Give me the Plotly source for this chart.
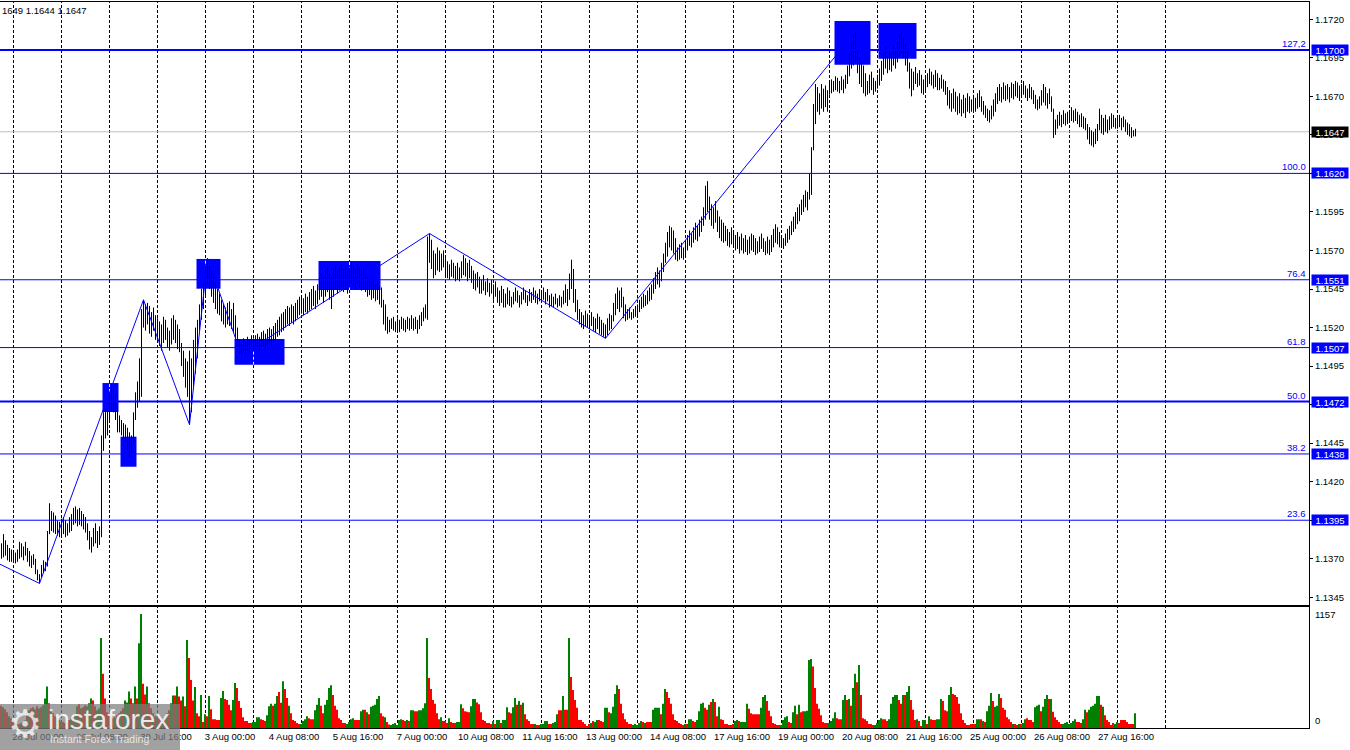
import plotly.graph_objects as go

# ---------------- DATA ----------------
days = ["27 Jul", "28 Jul", "29 Jul", "30 Jul", "31 Jul", "3 Aug", "4 Aug", "5 Aug", "6 Aug", "7 Aug",
        "10 Aug", "11 Aug", "12 Aug", "13 Aug", "14 Aug", "17 Aug", "18 Aug", "19 Aug", "20 Aug", "21 Aug",
        "24 Aug", "25 Aug", "26 Aug", "27 Aug", "28 Aug", "31 Aug"]
first_hour = 17          # first H1 bar: 27 Jul 17:00
price_base = 1.1300      # bar values below are pips above this base

high_pips = [
    [84, 80, 86, 82, 79, 77, 76],
    [75, 74, 76, 81, 80, 78, 81, 77, 75, 72, 73, 70, 63, 60, 66, 69, 68, 88, 106, 101, 100, 98, 95, 94],
    [96, 97, 95, 93, 97, 99, 103, 104, 102, 103, 101, 99, 97, 93, 88, 84, 90, 93, 88, 91, 150, 165, 167, 166],
    [178, 183, 180, 176, 168, 163, 160, 158, 157, 155, 152, 150, 165, 178, 185, 200, 232, 238, 235, 236, 234, 230, 233, 228],
    [226, 224, 222, 227, 225, 220, 218, 226, 228, 225, 222, 219, 210, 205, 200, 198, 205, 200, 212, 220, 225, 235, 245, 249],
    [260, 265, 262, 258, 255, 250, 245, 242, 238, 235, 233, 236, 237, 232, 236, 228, 220, 212, 210, 213, 211, 214, 212, 215],
    [213, 215, 216, 214, 217, 218, 216, 219, 220, 219, 221, 223, 225, 227, 229, 230, 232, 234, 233, 235, 234, 236, 238, 240],
    [241, 239, 242, 240, 243, 245, 247, 244, 248, 252, 255, 253, 257, 259, 256, 253, 258, 260, 257, 259, 261, 258, 260, 257],
    [259, 262, 260, 258, 261, 259, 257, 258, 255, 253, 252, 250, 251, 248, 250, 247, 246, 238, 235, 227, 225, 226, 227, 224],
    [226, 225, 227, 226, 225, 227, 226, 228, 226, 227, 225, 228, 230, 233, 235, 279, 281, 277, 270, 268, 272, 270, 268, 270],
    [265, 263, 261, 264, 262, 260, 262, 259, 263, 267, 265, 262, 264, 260, 257, 255, 256, 253, 251, 254, 250, 252, 249, 251],
    [248, 250, 246, 244, 247, 245, 242, 246, 244, 240, 243, 246, 244, 241, 243, 246, 244, 241, 245, 243, 246, 244, 242, 245],
    [244, 246, 243, 245, 241, 242, 240, 242, 239, 241, 240, 244, 248, 245, 255, 264, 258, 245, 238, 232, 230, 228, 231, 229],
    [228, 230, 227, 226, 229, 227, 225, 223, 222, 226, 229, 228, 236, 242, 246, 244, 246, 240, 235, 232, 233, 230, 232, 234],
    [235, 238, 240, 242, 241, 244, 246, 248, 252, 256, 259, 257, 262, 268, 275, 282, 286, 285, 283, 278, 272, 274, 275, 272],
    [276, 280, 283, 281, 285, 288, 286, 290, 292, 298, 312, 315, 305, 300, 298, 302, 296, 292, 290, 288, 286, 284, 282, 285],
    [283, 280, 282, 279, 281, 278, 280, 277, 279, 281, 280, 278, 276, 279, 281, 278, 276, 279, 277, 280, 284, 287, 285, 282],
    [280, 278, 281, 284, 286, 289, 292, 295, 298, 300, 303, 306, 309, 308, 320, 337, 365, 378, 376, 372, 378, 375, 377, 374],
    [379, 381, 380, 383, 382, 380, 383, 381, 384, 390, 398, 405, 410, 412, 400, 395, 392, 390, 385, 380, 384, 386, 382, 380],
    [384, 388, 393, 398, 402, 396, 400, 398, 403, 401, 406, 410, 412, 408, 404, 399, 392, 388, 386, 389, 385, 387, 384, 381],
    [382, 385, 388, 386, 384, 387, 385, 382, 384, 381, 380, 376, 374, 372, 375, 373, 370, 372, 368, 371, 369, 372, 370, 368],
    [371, 369, 372, 374, 370, 367, 364, 362, 361, 364, 368, 372, 376, 378, 376, 379, 377, 378, 376, 379, 378, 380, 379, 377],
    [378, 380, 377, 375, 378, 376, 374, 371, 368, 370, 374, 378, 376, 372, 375, 370, 362, 355, 358, 360, 358, 361, 359, 360],
    [361, 363, 361, 362, 360, 358, 359, 357, 356, 352, 350, 348, 347, 349, 352, 362, 358, 356, 358, 355, 357, 359, 358, 356],
    [357, 358, 356, 357, 355, 353, 352, 350, 348, 349],
]
low_pips = [
    [72, 70, 71, 72, 69, 68, 68],
    [68, 67, 68, 70, 71, 69, 72, 68, 65, 64, 66, 60, 56, 54, 58, 61, 62, 65, 86, 88, 87, 86, 85, 84],
    [85, 86, 84, 85, 87, 88, 92, 93, 91, 92, 91, 89, 87, 82, 76, 74, 78, 80, 77, 79, 84, 140, 148, 150],
    [160, 166, 165, 160, 152, 152, 150, 148, 146, 140, 136, 138, 145, 160, 168, 172, 175, 220, 218, 222, 216, 214, 218, 212],
    [210, 208, 205, 210, 212, 207, 205, 209, 212, 210, 206, 204, 195, 188, 181, 175, 157, 165, 180, 190, 200, 218, 225, 232],
    [240, 248, 245, 240, 236, 232, 229, 228, 224, 222, 220, 222, 221, 219, 217, 212, 207, 203, 202, 204, 203, 205, 204, 206],
    [205, 206, 207, 205, 207, 208, 206, 209, 210, 208, 210, 212, 214, 215, 217, 218, 220, 222, 221, 223, 222, 224, 226, 228],
    [229, 228, 230, 229, 231, 232, 234, 232, 235, 238, 240, 236, 240, 243, 238, 232, 240, 245, 242, 244, 246, 243, 245, 242],
    [246, 248, 247, 245, 248, 246, 244, 245, 243, 240, 241, 238, 239, 237, 238, 235, 233, 222, 218, 216, 217, 219, 218, 217],
    [218, 217, 219, 218, 217, 219, 218, 219, 218, 219, 216, 219, 221, 224, 226, 225, 262, 258, 252, 254, 257, 256, 257, 259],
    [254, 252, 251, 253, 252, 250, 251, 250, 252, 254, 253, 250, 252, 249, 245, 244, 246, 242, 242, 244, 241, 243, 240, 242],
    [238, 240, 236, 234, 236, 233, 233, 235, 234, 233, 235, 237, 236, 233, 235, 238, 236, 234, 237, 236, 238, 236, 235, 237],
    [236, 238, 235, 237, 233, 234, 233, 235, 233, 234, 233, 235, 236, 234, 238, 245, 236, 230, 225, 222, 220, 219, 221, 220],
    [219, 221, 218, 217, 219, 216, 215, 214, 213, 215, 218, 219, 224, 228, 232, 230, 233, 226, 224, 225, 226, 225, 226, 227],
    [228, 230, 232, 233, 234, 235, 237, 238, 242, 245, 248, 246, 250, 256, 262, 266, 272, 270, 268, 264, 263, 264, 265, 264],
    [266, 270, 273, 272, 275, 277, 276, 279, 282, 286, 290, 295, 290, 286, 284, 288, 282, 278, 276, 275, 276, 273, 272, 274],
    [272, 270, 271, 268, 270, 268, 269, 267, 268, 270, 269, 267, 268, 269, 271, 269, 267, 268, 267, 269, 272, 275, 274, 272],
    [272, 271, 273, 275, 277, 280, 282, 284, 287, 289, 293, 295, 298, 296, 303, 306, 335, 352, 360, 358, 362, 360, 363, 360],
    [371, 372, 373, 374, 373, 372, 374, 372, 375, 378, 383, 388, 390, 392, 385, 378, 376, 372, 370, 371, 372, 374, 371, 373],
    [375, 377, 380, 384, 388, 385, 387, 386, 390, 388, 392, 396, 398, 395, 390, 386, 375, 370, 374, 378, 376, 377, 372, 371],
    [374, 376, 378, 377, 375, 376, 374, 374, 375, 373, 371, 364, 362, 360, 362, 360, 358, 359, 357, 359, 356, 360, 359, 360],
    [361, 360, 362, 363, 360, 358, 356, 354, 353, 355, 357, 360, 365, 367, 366, 368, 367, 368, 366, 369, 368, 370, 369, 367],
    [370, 371, 369, 367, 369, 368, 365, 362, 361, 362, 364, 366, 364, 362, 365, 360, 343, 345, 349, 351, 350, 352, 351, 352],
    [353, 354, 353, 354, 352, 350, 350, 349, 348, 342, 339, 338, 337, 339, 341, 348, 346, 345, 347, 346, 348, 349, 350, 349],
    [349, 350, 348, 350, 347, 345, 344, 343, 344, 344],
]
volume = [
    [235, 225, 210, 190, 160, 120, 100],
    [60, 50, 40, 40, 50, 60, 80, 130, 180, 200, 210, 190, 220, 200, 210, 230, 300, 420, 250, 190, 150, 120, 100, 80],
    [70, 60, 50, 60, 80, 90, 110, 130, 220, 240, 200, 210, 230, 220, 250, 300, 280, 220, 180, 200, 913, 551, 300, 160],
    [150, 120, 100, 110, 130, 150, 170, 200, 280, 260, 370, 300, 250, 420, 300, 860, 1157, 450, 340, 420, 250, 200, 150, 120],
    [120, 100, 80, 90, 110, 150, 180, 250, 330, 330, 420, 320, 280, 320, 220, 893, 711, 487, 280, 416, 150, 120, 335, 60],
    [140, 120, 325, 190, 90, 90, 80, 80, 305, 375, 295, 285, 235, 180, 285, 457, 406, 274, 203, 110, 70, 70, 50, 50],
    [60, 60, 110, 110, 90, 80, 70, 130, 220, 245, 225, 245, 325, 365, 255, 475, 395, 305, 225, 150, 80, 70, 50, 40],
    [40, 70, 90, 120, 100, 90, 90, 180, 235, 305, 225, 150, 235, 285, 405, 435, 335, 225, 185, 100, 80, 50, 50, 40],
    [60, 90, 100, 80, 80, 80, 170, 185, 185, 160, 140, 215, 225, 235, 295, 325, 150, 120, 110, 60, 35, 30, 40, 50],
    [30, 80, 90, 80, 70, 80, 70, 180, 180, 170, 170, 180, 180, 200, 250, 913, 507, 395, 285, 245, 150, 90, 110, 70],
    [70, 50, 100, 60, 50, 50, 60, 60, 240, 200, 170, 165, 160, 220, 295, 295, 260, 240, 160, 80, 70, 50, 50, 40],
    [70, 40, 80, 80, 50, 80, 80, 210, 160, 150, 210, 305, 235, 275, 235, 255, 140, 90, 70, 40, 40, 40, 30, 30],
    [40, 40, 70, 70, 40, 40, 50, 60, 140, 180, 180, 325, 185, 185, 913, 518, 385, 285, 205, 80, 80, 60, 40, 20],
    [40, 50, 70, 60, 80, 80, 70, 60, 205, 205, 160, 150, 215, 345, 435, 395, 245, 150, 90, 60, 40, 40, 30, 40],
    [30, 50, 70, 60, 50, 60, 60, 60, 185, 205, 205, 205, 140, 245, 395, 365, 305, 245, 140, 80, 70, 50, 40, 30],
    [40, 40, 90, 90, 70, 60, 80, 170, 245, 255, 205, 185, 235, 265, 295, 265, 120, 215, 90, 80, 40, 40, 30, 30],
    [40, 70, 80, 70, 60, 60, 60, 245, 195, 150, 140, 140, 140, 140, 205, 315, 335, 275, 175, 120, 50, 40, 30, 30],
    [30, 80, 110, 120, 60, 50, 160, 225, 140, 235, 160, 170, 170, 175, 690, 700, 625, 406, 245, 195, 130, 60, 50, 50],
    [50, 70, 100, 160, 100, 90, 90, 285, 335, 285, 295, 225, 405, 550, 465, 640, 335, 100, 90, 70, 40, 40, 30, 30],
    [50, 80, 100, 90, 90, 70, 90, 245, 315, 335, 335, 285, 245, 335, 335, 365, 425, 285, 185, 80, 90, 70, 20, 80],
    [80, 40, 120, 90, 80, 80, 90, 90, 295, 275, 180, 170, 335, 415, 345, 335, 315, 245, 150, 80, 50, 30, 30, 40],
    [40, 40, 90, 90, 90, 70, 60, 170, 225, 355, 275, 215, 225, 345, 305, 205, 185, 110, 90, 60, 40, 40, 30, 40],
    [40, 50, 90, 100, 80, 80, 60, 210, 225, 235, 170, 215, 295, 335, 295, 295, 165, 110, 80, 60, 40, 40, 50, 60],
    [40, 50, 70, 90, 60, 60, 50, 90, 185, 160, 185, 215, 225, 245, 325, 325, 235, 215, 130, 80, 60, 30, 50, 40],
    [60, 50, 80, 80, 80, 60, 40, 40, 40, 150],
]
bar_direction = [  # g = bullish hour, r = bearish hour
    "grgrrgr",
    "rrgrgrgrgrrgrgrgggrgrrgr",
    "grrgrgrggrgrrgggrrgggrrr",
    "rgrgrrgrgggrrgrggrrgrrgr",
    "grrgrgrggrgrrgrgrrrgrrgr",
    "grgrrrrrggrrrrggrrrrrrrr",
    "ggggrrrgggrggrrgrrgrrrrr",
    "ggggrrrgggrrggggrrrrrrrg",
    "gggrrrggrgrgggggrrgrrggg",
    "gggrrgrggrrgggggrrrrrrgr",
    "rrgrrrgggrrrrgggrrrrrrrr",
    "grggrgggrrggrgrgrrrrrgrr",
    "ggggrrgggrrgrrgrrrrrrrrr",
    "rgrggrrrggrggggrrrrrrrgg",
    "gggrgrrrggggrggrrrrrrrrr",
    "grggrrggggrrgrgrrgrrrrrr",
    "rggrggggrrrrrrgggrrrrrrr",
    "ggggrrggrgrrggggrrrrrrrr",
    "ggggrrrggrgrggrgrrrrrrrg",
    "gggrrrgggggrrgrggrrrgrrg",
    "grgrrrgggrrrggrrrrrrrrrr",
    "rrggrgrgggrgggrrrrrrgrrg",
    "rggrrrrgggrgggrgrrrrrggg",
    "ggggrrrggrggggggrgrrrrrg",
    "grrrrrrrrg",
]

fib_prices = [1.1700, 1.1620, 1.1551, 1.1507, 1.1472, 1.1438, 1.1395]
fib_names = ["127,2", "100.0", "76.4", "61.8", "50.0", "38.2", "23.6"]

zigzag_bar = [0, 20, 72, 95, 104, 121, 215, 303, 428]
zigzag_price = [1.13666, 1.1354, 1.1538, 1.1457, 1.1565, 1.1502, 1.1581, 1.1513, 1.1712]

zone_bar_start = [51.5, 60.5, 98.5, 117.5, 159.5, 417.5, 439.5]
zone_bar_end = [59.5, 68.5, 110.5, 142.5, 190.5, 435.5, 458.5]
zone_top = [1.14840, 1.14492, 1.15645, 1.15126, 1.15632, 1.17189, 1.17176]
zone_bottom = [1.14652, 1.14297, 1.15452, 1.14959, 1.15444, 1.16905, 1.16944]

last_price = 1.1647
ohlc_text = "1649 1.1644 1.1647"
volume_max_label = 1157

# ---------------- PREP ----------------
for k in range(len(high_pips)):
    assert len(high_pips[k]) == len(low_pips[k]) == len(volume[k]) == len(bar_direction[k]), \
        ("row", k, len(high_pips[k]), len(low_pips[k]), len(volume[k]), len(bar_direction[k]))

H = [v for r in high_pips for v in r]
L = [v for r in low_pips for v in r]
V = [v for r in volume for v in r]
D = "".join(bar_direction)
nbars = len(H)


def to_price(p):
    return round(price_base + p / 10000.0, 5)


bar_x, bar_y = [], []
for n, (h, l) in enumerate(zip(H, L)):
    bar_x += [n, n, None]
    bar_y += [to_price(l), to_price(h), None]

day_starts = [k * 24 - first_hour for k in range(1, len(days))]
tick_pos, tick_text = [], []
for n in range(24 - first_hour, nbars, 32):
    g = n + first_hour
    tick_pos.append(n)
    tick_text.append(f"{days[g // 24]} {g % 24:02d}:00")

# ---------------- STYLE ----------------
BLUE = "#0000FF"
FONT = "Liberation Sans, Arial, sans-serif"
FS = 9.5
W, HGT = 1350, 750
ML, MR, MT, MB = 0, 41, 2, 22
PW = W - ML - MR
PH = HGT - MT - MB


def px_to_paper_y(py):
    return (HGT - MB - py) / PH


def px_to_paper_x(px):
    return (px - ML) / PW


price_dom = [px_to_paper_y(605), 1.0]
vol_dom = [0.0, px_to_paper_y(607)]
x_range = [0.25, 0.25 + PW / 2.0]
x2_range = [0.5, 0.5 + PW / 2.0]

fig = go.Figure()

fig.add_trace(go.Scatter(x=bar_x, y=bar_y, mode="lines", line=dict(color="black", width=1),
                         xaxis="x", yaxis="y", hoverinfo="skip", showlegend=False))
fig.add_trace(go.Scatter(x=zigzag_bar, y=zigzag_price, mode="lines", line=dict(color=BLUE, width=1),
                         xaxis="x", yaxis="y", hoverinfo="skip", showlegend=False))
fig.add_trace(go.Bar(x=list(range(nbars)), y=V, width=1,
                     marker=dict(color=["#008000" if c == "g" else "#FF0000" for c in D], line=dict(width=0)),
                     xaxis="x2", yaxis="y2", hoverinfo="skip", showlegend=False))

shapes = []
for n in day_starts:
    shapes.append(dict(type="line", xref="x", yref="paper", x0=n, x1=n, y0=0, y1=1,
                       line=dict(color="black", width=1, dash="3px,2px"), layer="below"))
shapes.append(dict(type="line", xref="paper", yref="y", x0=0, x1=1, y0=last_price, y1=last_price,
                   line=dict(color="#C0C0C0", width=1), layer="below"))
for b0, b1, t, b in zip(zone_bar_start, zone_bar_end, zone_top, zone_bottom):
    shapes.append(dict(type="rect", xref="x", yref="y", x0=b0, x1=b1, y0=b, y1=t,
                       fillcolor=BLUE, line=dict(width=0), layer="below"))
for b0, b1, t, b in zip(zone_bar_start, zone_bar_end, zone_top, zone_bottom):
    for n in day_starts:
        if b0 < n < b1:
            shapes.append(dict(type="line", xref="x", yref="y", x0=n, x1=n, y0=b, y1=t,
                               line=dict(color="#FFFF00", width=1, dash="3px,2px"), layer="below"))
for p in fib_prices:
    w = 2 if p in (1.1700, 1.1472) else 1
    shapes.append(dict(type="line", xref="paper", yref="y", x0=0, x1=1, y0=p, y1=p,
                       line=dict(color=BLUE, width=w), layer="above"))
# watermark panel
shapes.append(dict(type="rect", xref="paper", yref="paper",
                   x0=0, x1=px_to_paper_x(180), y0=px_to_paper_y(750), y1=px_to_paper_y(704),
                   fillcolor="rgba(125,125,125,0.72)", line=dict(width=0), layer="above"))

ann = []
for p, name in zip(fib_prices, fib_names):
    ann.append(dict(xref="paper", yref="y", x=px_to_paper_x(1307.5), y=p, xanchor="right", yanchor="bottom",
                    text=name, showarrow=False, font=dict(family=FONT, size=FS, color=BLUE), yshift=-1))
    ann.append(dict(xref="paper", yref="y", x=px_to_paper_x(1311), y=p, xanchor="left", yanchor="middle",
                    text=f"{p:.4f}", showarrow=False, bgcolor=BLUE, width=34, height=8, borderpad=1,
                    font=dict(family=FONT, size=FS, color="white")))
ann.append(dict(xref="paper", yref="y", x=px_to_paper_x(1311), y=last_price, xanchor="left", yanchor="middle",
                text=f"{last_price:.4f}", showarrow=False, bgcolor="black", width=34, height=8, borderpad=1,
                font=dict(family=FONT, size=FS, color="white")))
ann.append(dict(xref="paper", yref="paper", x=0, y=px_to_paper_y(10.5), xanchor="left", yanchor="middle",
                text=ohlc_text, showarrow=False, font=dict(family=FONT, size=FS, color="black")))
ann.append(dict(xref="paper", yref="y2", x=px_to_paper_x(1313), y=volume_max_label, xanchor="left",
                yanchor="middle", text=str(volume_max_label), showarrow=False,
                font=dict(family=FONT, size=FS, color="black")))
ann.append(dict(xref="paper", yref="y2", x=px_to_paper_x(1313), y=0, xanchor="left", yanchor="bottom",
                text="0", showarrow=False, font=dict(family=FONT, size=FS, color="black")))
# watermark texts
ann.append(dict(xref="paper", yref="paper", x=px_to_paper_x(25), y=px_to_paper_y(724), xanchor="center",
                yanchor="middle", text="\u2699", showarrow=False,
                font=dict(family="DejaVu Sans", size=38, color="rgba(255,255,255,0.75)")))
ann.append(dict(xref="paper", yref="paper", x=px_to_paper_x(46), y=px_to_paper_y(719), xanchor="left",
                yanchor="middle", text="instaforex", showarrow=False,
                font=dict(family=FONT, size=28, color="rgba(255,255,255,0.85)")))
ann.append(dict(xref="paper", yref="paper", x=px_to_paper_x(48), y=px_to_paper_y(739), xanchor="left",
                yanchor="middle", text="Instant Forex Trading", showarrow=False,
                font=dict(family=FONT, size=10.5, color="rgba(238,238,238,0.9)")))

axis_common = dict(showgrid=False, zeroline=False, linecolor="black", linewidth=1, fixedrange=True)

fig.update_layout(
    width=W, height=HGT,
    margin=dict(l=ML, r=MR, t=MT, b=MB, pad=0),
    paper_bgcolor="white", plot_bgcolor="white",
    hovermode=False, showlegend=False,
    font=dict(family=FONT, size=FS, color="black"),
    xaxis=dict(domain=[0, 1], range=x_range, anchor="y", showticklabels=False, ticks="",
               showline=True, mirror=True, **axis_common),
    yaxis=dict(domain=price_dom, range=[1.1340, 1.17312], side="right", anchor="x",
               tick0=1.1345, dtick=0.0025, tickformat=".4f", ticks="outside", ticklen=3,
               tickcolor="black", showline=True, tickfont=dict(family=FONT, size=FS, color="black"),
               **axis_common),
    xaxis2=dict(domain=[0, 1], range=x2_range, anchor="y2", tickmode="array", tickvals=tick_pos,
                ticktext=tick_text, ticks="", showline=True, mirror=True, ticklabelshift=25,
                tickfont=dict(family=FONT, size=FS, color="black"), **axis_common),
    yaxis2=dict(domain=vol_dom, range=[0, 1228], side="right", anchor="x2", showticklabels=False,
                ticks="", showline=True, **axis_common),
    shapes=shapes,
    annotations=ann,
)

fig.write_html("out.html", config={"displayModeBar": False},
               post_script="document.body.style.margin='0px';document.body.style.overflow='hidden';")
